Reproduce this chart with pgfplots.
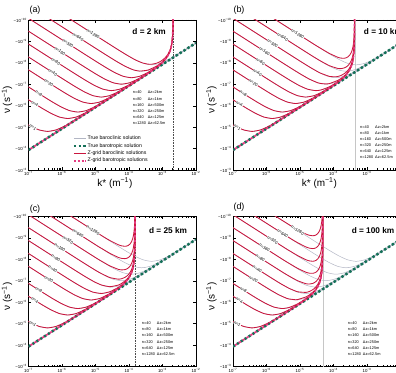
\documentclass[border=0pt]{standalone}
\usepackage{fontspec}
\setmainfont{Liberation Sans}
\usepackage{pgfplots}
\pgfplotsset{compat=1.18}

\definecolor{zred}{RGB}{202,22,62}
\definecolor{zpink}{RGB}{230,60,130}
\definecolor{tgreen}{RGB}{20,112,88}
\definecolor{tgrey}{RGB}{178,182,196}
\newcommand{\sprm}[1]{\textsuperscript{#1}}

% all data are log10 values: x = log10 k*, y = log10 |nu|
\pgfplotsset{
  panel/.style={
    scale only axis, width=167.5bp, height=150bp,
    xmin=-7, xmax=-2, ymin=-10, ymax=-3, y dir=reverse,
    xtick={-7,-6,-5,-4,-3,-2},
    xticklabels={10\sprm{−7},10\sprm{−6},10\sprm{−5},10\sprm{−4},10\sprm{−3},10\sprm{−2}},
    ytick={-10,-9,-8,-7,-6,-5,-4,-3},
    yticklabels={−10\sprm{−10},−10\sprm{−9},−10\sprm{−8},−10\sprm{−7},−10\sprm{−6},−10\sprm{−5},−10\sprm{−4},−10\sprm{−3}},
    minor xtick={-6.699,-6.523,-6.398,-6.301,-6.222,-6.155,-6.097,-6.046,
                 -5.699,-5.523,-5.398,-5.301,-5.222,-5.155,-5.097,-5.046,
                 -4.699,-4.523,-4.398,-4.301,-4.222,-4.155,-4.097,-4.046,
                 -3.699,-3.523,-3.398,-3.301,-3.222,-3.155,-3.097,-3.046,
                 -2.699,-2.523,-2.398,-2.301,-2.222,-2.155,-2.097,-2.046},
    tick align=inside, major tick length=2.8bp, minor tick length=1.5bp,
    tick style={black, line width=0.4bp},
    axis line style={line width=0.6bp},
    tick label style={font=\fontsize{4.4}{5}\selectfont},
    xticklabel style={inner sep=1.2bp},
    yticklabel style={inner sep=1.5bp},
    label style={font=\fontsize{5.4}{6}\selectfont},
    xlabel={k* (m\sprm{−1})},
    ylabel={ν (s\sprm{−1})},
    every axis y label/.style={at={(axis description cs:-0.128,0.467)}, rotate=90, anchor=center},
    every axis x label/.style={at={(axis description cs:0.516,-0.087)}, anchor=center},
  },
  truebc/.style={tgrey, line width=0.5bp, smooth, tension=0.4, no marks, forget plot},
  zbc/.style={zred, line width=0.85bp, smooth, tension=0.3, no marks, forget plot},
  ztail/.style={zred, line width=1.1bp, no marks, forget plot},
  tbt/.style={tgreen, line width=2.5bp, dash pattern=on 2.5bp off 2.1bp, no marks, forget plot},
  zbt/.style={zpink, line width=1.7bp, dash pattern=on 2.4bp off 2.2bp, dash phase=2.3bp, no marks, forget plot},
}
\tikzset{
  nlab/.style={font=\fontsize{4.2}{5}\selectfont, rotate=-32.6, fill=white, inner sep=0.3bp},
  dlab/.style={font=\bfseries\fontsize{8.3}{9}\selectfont},
  tab/.style={anchor=north west, font=\fontsize{3.9}{6.1}\selectfont, align=left, inner sep=0pt},
}

% exact (continuous) baroclinic modes, identical in every panel
\newcommand{\truecurves}{%
\addplot[truebc] coordinates {(-7.18,-5.2635) (-6.93,-5.0414) (-6.68,-4.8693) (-6.43,-4.801) (-6.18,-4.8693) (-5.93,-5.0414) (-5.68,-5.2635) (-5.43,-5.5043) (-5.18,-5.7514) (-4.93,-6.0004) (-2,-8.93)};
\addplot[truebc] coordinates {(-7.328,-6.6024) (-7.078,-6.3534) (-6.828,-6.1063) (-6.578,-5.8655) (-6.328,-5.6434) (-6.078,-5.4713) (-5.828,-5.403) (-5.578,-5.4713) (-5.328,-5.6434) (-5.078,-5.8655) (-4.828,-6.1063) (-4.578,-6.3534) (-4.328,-6.6024) (-2,-8.93)};
\addplot[truebc] coordinates {(-7.2,-7.076) (-7.027,-6.9034) (-6.777,-6.6544) (-6.527,-6.4073) (-6.277,-6.1665) (-6.027,-5.9444) (-5.777,-5.7723) (-5.527,-5.704) (-5.277,-5.7723) (-5.027,-5.9444) (-4.777,-6.1665) (-4.527,-6.4073) (-4.277,-6.6544) (-4.027,-6.9034) (-2,-8.93)};
\addplot[truebc] coordinates {(-7.1,-7.772) (-6.629,-7.3014) (-6.379,-7.0524) (-6.129,-6.8053) (-5.879,-6.5645) (-5.629,-6.3424) (-5.379,-6.1703) (-5.129,-6.102) (-4.879,-6.1703) (-4.629,-6.3424) (-4.379,-6.5645) (-4.129,-6.8053) (-3.879,-7.0524) (-3.629,-7.3014) (-2,-8.93)};
\addplot[truebc] coordinates {(-7.1,-8.374) (-6.328,-7.6024) (-6.078,-7.3534) (-5.828,-7.1063) (-5.578,-6.8655) (-5.328,-6.6434) (-5.078,-6.4713) (-4.828,-6.403) (-4.578,-6.4713) (-4.328,-6.6434) (-4.078,-6.8655) (-3.828,-7.1063) (-3.578,-7.3534) (-3.328,-7.6024) (-2,-8.93)};
\addplot[truebc] coordinates {(-7.1,-8.976) (-6.027,-7.9034) (-5.777,-7.6544) (-5.527,-7.4073) (-5.277,-7.1665) (-5.027,-6.9444) (-4.777,-6.7723) (-4.527,-6.704) (-4.277,-6.7723) (-4.027,-6.9444) (-3.777,-7.1665) (-3.527,-7.4073) (-3.277,-7.6544) (-3.027,-7.9034) (-2,-8.93)};
\addplot[truebc] coordinates {(-7.1,-9.578) (-5.726,-8.2044) (-5.476,-7.9554) (-5.226,-7.7083) (-4.976,-7.4675) (-4.726,-7.2454) (-4.476,-7.0733) (-4.226,-7.005) (-3.976,-7.0733) (-3.726,-7.2454) (-3.476,-7.4675) (-3.226,-7.7083) (-2.976,-7.9554) (-2.726,-8.2044) (-2,-8.93)};
\addplot[truebc] coordinates {(-7.0,-10.08) (-5.425,-8.5054) (-5.175,-8.2564) (-4.925,-8.0093) (-4.675,-7.7685) (-4.425,-7.5464) (-4.175,-7.3743) (-3.925,-7.306) (-3.675,-7.3743) (-3.425,-7.5464) (-3.175,-7.7685) (-2.925,-8.0093) (-2.675,-8.2564) (-2.425,-8.5054) (-2,-8.93)};
\addplot[truebc] coordinates {(-6.4,-10.082) (-5.124,-8.8064) (-4.874,-8.5574) (-4.624,-8.3103) (-4.374,-8.0695) (-4.124,-7.8474) (-3.874,-7.6753) (-3.624,-7.607) (-3.374,-7.6753) (-3.124,-7.8474) (-2.874,-8.0695) (-2.624,-8.3103) (-2.374,-8.5574) (-2.124,-8.8064) (-2,-8.93)};
\addplot[truebc] coordinates {(-5.8,-10.084) (-4.823,-9.1074) (-4.573,-8.8584) (-4.323,-8.6113) (-4.073,-8.3705) (-3.823,-8.1484) (-3.573,-7.9763) (-3.323,-7.908) (-3.073,-7.9763) (-2.823,-8.1484) (-2.573,-8.3705) (-2.323,-8.6113) (-2.073,-8.8584) (-1.823,-9.1074)};
\addplot[tbt] coordinates {(-7,-3.93) (-2,-8.93)};
}

\newcommand{\nlabels}{%
\node[nlab] at (axis cs:-6.87,-4.994) {n=1};
\node[nlab] at (axis cs:-6.81,-6.0885) {n=4};
\node[nlab] at (axis cs:-6.69,-6.568) {n=8};
\node[nlab] at (axis cs:-6.39,-7.0635) {n=20};
\node[nlab] at (axis cs:-6.27,-7.5445) {n=40};
\node[nlab] at (axis cs:-6.18,-8.056) {n=80};
\node[nlab] at (axis cs:-6.06,-8.538) {n=160};
\node[nlab] at (axis cs:-5.82,-8.90) {n=320};
\node[nlab] at (axis cs:-5.52,-9.202) {n=640};
\node[nlab] at (axis cs:-5.07,-9.354) {n=1280};
}

\newcommand{\gridtable}{%
\makebox[15bp][l]{n=40}Δz=2km\\
\makebox[15bp][l]{n=80}Δz=1km\\
\makebox[15bp][l]{n=160}Δz=500m\\
\makebox[15bp][l]{n=320}Δz=250m\\
\makebox[15bp][l]{n=640}Δz=125m\\
\makebox[15bp][l]{n=1280}Δz=62.5m}

\begin{document}
\begin{tikzpicture}

% ---------------- (a) d = 2 km ----------------
\begin{axis}[panel, at={(28.5bp,203bp)}, anchor=south west,
  legend style={draw=none, fill=none, at={(0.245,0.245)}, anchor=north west,
    font=\fontsize{5.2}{6}\selectfont, row sep=0.9bp, nodes={inner sep=0.6bp}},
  legend cell align=left,
  legend image code/.code={\draw[#1] (0bp,0bp) -- (12bp,0bp);}]
\addlegendimage{tgrey, line width=0.5bp}\addlegendentry{True baroclinic solution}
\addlegendimage{tgreen, line width=2.4bp, dash pattern=on 2.4bp off 2.2bp}\addlegendentry{True barotropic solution}
\addlegendimage{zred, line width=0.85bp}\addlegendentry{Z-grid baroclinic solutions}
\addlegendimage{zpink, line width=1.7bp, dash pattern=on 2.4bp off 1.4bp}\addlegendentry{Z-grid barotropic solutions}
\addplot[gray!60!black, line width=0.5bp, dash pattern=on 0.8bp off 0.8bp, forget plot] coordinates {(-2.68,-10) (-2.68,-3)};
\truecurves
\addplot[zbc] coordinates {(-7.18,-5.2635) (-6.93,-5.0414) (-6.68,-4.8693) (-6.43,-4.801) (-6.18,-4.8693) (-5.93,-5.0414) (-5.68,-5.2635) (-5.43,-5.5043) (-5.18,-5.7514) (-4.93,-6.0004) (-3.68,-7.2536)};
\addplot[zbc] coordinates {(-7.328,-6.6024) (-7.078,-6.3534) (-6.828,-6.1063) (-6.578,-5.8655) (-6.328,-5.6434) (-6.078,-5.4713) (-5.828,-5.403) (-5.578,-5.4713) (-5.328,-5.6434) (-5.078,-5.8655) (-4.828,-6.1063) (-4.578,-6.3534) (-4.328,-6.6024) (-3.68,-7.2536)};
\addplot[zbc] coordinates {(-7.2,-7.076) (-7.027,-6.9034) (-6.777,-6.6544) (-6.527,-6.4073) (-6.277,-6.1665) (-6.027,-5.9444) (-5.777,-5.7723) (-5.527,-5.704) (-5.277,-5.7723) (-5.027,-5.9444) (-4.777,-6.1665) (-4.527,-6.4073) (-4.277,-6.6544) (-4.027,-6.9034) (-3.68,-7.2536)};
\addplot[zbc] coordinates {(-7.1,-7.772) (-6.629,-7.3014) (-6.379,-7.0524) (-6.129,-6.8053) (-5.879,-6.5645) (-5.629,-6.3424) (-5.379,-6.1703) (-5.129,-6.102) (-4.879,-6.1703) (-4.629,-6.3424) (-4.379,-6.5645) (-4.129,-6.8053) (-3.879,-7.0524) (-3.68,-7.2536)};
\addplot[zbc] coordinates {(-7.1,-8.374) (-6.328,-7.6024) (-6.078,-7.3534) (-5.828,-7.1063) (-5.578,-6.8655) (-5.328,-6.6434) (-5.078,-6.4713) (-4.828,-6.403) (-4.578,-6.4713) (-4.328,-6.6434) (-4.078,-6.8655) (-3.828,-7.1063) (-3.68,-7.2556) (-3.43,-7.5115)};
\addplot[zbc] coordinates {(-7.1,-8.976) (-6.027,-7.9034) (-5.777,-7.6544) (-5.527,-7.4073) (-5.277,-7.1665) (-5.027,-6.9444) (-4.777,-6.7723) (-4.527,-6.704) (-4.277,-6.7723) (-4.027,-6.9444) (-3.777,-7.1665) (-3.68,-7.2622) (-3.43,-7.5141) (-3.18,-7.788)};
\addplot[zbc] coordinates {(-7.1,-9.578) (-5.726,-8.2044) (-5.476,-7.9554) (-5.226,-7.7083) (-4.976,-7.4675) (-4.726,-7.2454) (-4.476,-7.0733) (-4.226,-7.005) (-3.976,-7.0733) (-3.726,-7.2454) (-3.68,-7.2875) (-3.43,-7.5225) (-3.18,-7.7917) (-3.08,-7.9146) (-2.98,-8.0571)};
\addplot[zbc] coordinates {(-7.0,-10.08) (-5.425,-8.5054) (-5.175,-8.2564) (-4.925,-8.0093) (-4.675,-7.7685) (-4.425,-7.5464) (-4.175,-7.3743) (-3.925,-7.306) (-3.68,-7.3762) (-3.43,-7.5547) (-3.18,-7.8029) (-3.08,-7.9221) (-2.98,-8.0623) (-2.93,-8.1453) (-2.88,-8.2424) (-2.83,-8.3658) (-2.78,-8.5329) (-2.75,-8.6811) (-2.73,-8.8206) (-2.71,-9.0357) (-2.70,-9.2068) (-2.69,-9.503) (-2.685,-9.8045) (-2.68,-10.3)};
\addplot[zbc] coordinates {(-6.4,-10.082) (-5.124,-8.8064) (-4.874,-8.5574) (-4.624,-8.3103) (-4.374,-8.0695) (-4.124,-7.8474) (-3.874,-7.6753) (-3.68,-7.6163) (-3.43,-7.6637) (-3.18,-7.845) (-3.08,-7.9508) (-2.98,-8.0822) (-2.93,-8.1621) (-2.88,-8.2569) (-2.83,-8.3784) (-2.78,-8.5442) (-2.75,-8.6919) (-2.73,-8.8312) (-2.71,-9.0461) (-2.70,-9.2172) (-2.69,-9.5134) (-2.685,-9.815) (-2.68,-10.3)};
\addplot[zbc] coordinates {(-5.8,-10.084) (-4.823,-9.1074) (-4.573,-8.8584) (-4.323,-8.6113) (-4.073,-8.3705) (-3.823,-8.1484) (-3.68,-8.0475) (-3.573,-7.9863) (-3.43,-7.9397) (-3.32,-7.9369) (-3.18,-7.9817) (-3.08,-8.0499) (-2.98,-8.154) (-2.93,-8.2237) (-2.88,-8.3107) (-2.83,-8.4252) (-2.78,-8.5866) (-2.75,-8.7324) (-2.73,-8.8707) (-2.71,-9.0849) (-2.70,-9.2558) (-2.69,-9.5518) (-2.685,-9.853) (-2.68,-10.3)};
\addplot[ztail] coordinates {(-3.68,-7.2536) (-3.43,-7.5115) (-3.18,-7.788) (-3.08,-7.9124) (-2.98,-8.0556) (-2.93,-8.1395) (-2.88,-8.2379) (-2.83,-8.3612) (-2.78,-8.5289) (-2.75,-8.6774) (-2.73,-8.8171) (-2.71,-9.0322) (-2.70,-9.2034) (-2.69,-9.4996) (-2.685,-9.801) (-2.68,-10.3)};
\addplot[zbt] coordinates {(-7,-3.93) (-3.68,-7.2536) (-3.43,-7.5115) (-3.18,-7.788) (-3.08,-7.9124) (-2.98,-8.0556) (-2.93,-8.1395) (-2.88,-8.2379) (-2.83,-8.3612) (-2.78,-8.5289) (-2.75,-8.6774) (-2.73,-8.8171) (-2.71,-9.0322) (-2.70,-9.2034) (-2.69,-9.4996) (-2.685,-9.801) (-2.68,-10.3)};
\nlabels
\node[dlab] at (axis description cs:0.72,0.92) {d = 2 km};
\node[tab] at (axis description cs:0.622,0.527) {\gridtable};
\end{axis}

% ---------------- (b) d = 10 km ----------------
\begin{axis}[panel, at={(233bp,203bp)}, anchor=south west]
\addplot[gray!45, line width=0.5bp, forget plot] coordinates {(-3.36,-10) (-3.36,-3)};
\truecurves
\addplot[zbc] coordinates {(-7.18,-5.2635) (-6.93,-5.0414) (-6.68,-4.8693) (-6.43,-4.801) (-6.18,-4.8693) (-5.93,-5.0414) (-5.68,-5.2635) (-5.43,-5.5043) (-5.18,-5.7514) (-4.93,-6.0004) (-4.37,-6.5636)};
\addplot[zbc] coordinates {(-7.328,-6.6024) (-7.078,-6.3534) (-6.828,-6.1063) (-6.578,-5.8655) (-6.328,-5.6434) (-6.078,-5.4713) (-5.828,-5.403) (-5.578,-5.4713) (-5.328,-5.6434) (-5.078,-5.8655) (-4.828,-6.1063) (-4.578,-6.3534) (-4.37,-6.5636)};
\addplot[zbc] coordinates {(-7.2,-7.076) (-7.027,-6.9034) (-6.777,-6.6544) (-6.527,-6.4073) (-6.277,-6.1665) (-6.027,-5.9444) (-5.777,-5.7723) (-5.527,-5.704) (-5.277,-5.7723) (-5.027,-5.9444) (-4.777,-6.1665) (-4.527,-6.4073) (-4.37,-6.5655)};
\addplot[zbc] coordinates {(-7.1,-7.772) (-6.629,-7.3014) (-6.379,-7.0524) (-6.129,-6.8053) (-5.879,-6.5645) (-5.629,-6.3424) (-5.379,-6.1703) (-5.129,-6.102) (-4.879,-6.1703) (-4.629,-6.3424) (-4.37,-6.5765) (-4.12,-6.8255) (-3.87,-7.0995)};
\addplot[zbc] coordinates {(-7.1,-8.374) (-6.328,-7.6024) (-6.078,-7.3534) (-5.828,-7.1063) (-5.578,-6.8655) (-5.328,-6.6434) (-5.078,-6.4713) (-4.828,-6.403) (-4.578,-6.4713) (-4.37,-6.6136) (-4.12,-6.838) (-3.87,-7.1036) (-3.77,-7.2259) (-3.67,-7.368) (-3.62,-7.4517) (-3.57,-7.5493)};
\addplot[zbc] coordinates {(-7.1,-8.976) (-6.027,-7.9034) (-5.777,-7.6544) (-5.527,-7.4073) (-5.277,-7.1665) (-5.027,-6.9444) (-4.777,-6.7723) (-4.527,-6.704) (-4.37,-6.7365) (-4.12,-6.8849) (-3.87,-7.1202) (-3.77,-7.237) (-3.67,-7.3757) (-3.62,-7.4581) (-3.57,-7.5549) (-3.52,-7.6779) (-3.47,-7.8449) (-3.44,-7.993) (-3.42,-8.1325)};
\addplot[zbc] coordinates {(-7.1,-9.578) (-5.726,-8.2044) (-5.476,-7.9554) (-5.226,-7.7083) (-4.976,-7.4675) (-4.726,-7.2454) (-4.476,-7.0733) (-4.37,-7.0345) (-4.226,-7.0155) (-4.12,-7.0337) (-3.87,-7.181) (-3.77,-7.279) (-3.67,-7.405) (-3.62,-7.483) (-3.57,-7.5766) (-3.52,-7.6963) (-3.47,-7.8614) (-3.44,-8.0092) (-3.42,-8.1485) (-3.40,-8.3633) (-3.39,-8.5344) (-3.38,-8.8305) (-3.375,-9.132) (-3.372,-9.527) (-3.37,-10.3)};
\addplot[zbc] coordinates {(-7.0,-10.08) (-5.425,-8.5054) (-5.175,-8.2564) (-4.925,-8.0093) (-4.675,-7.7685) (-4.425,-7.5464) (-4.37,-7.5096) (-4.12,-7.368) (-3.925,-7.3492) (-3.87,-7.3635) (-3.77,-7.4152) (-3.67,-7.506) (-3.62,-7.5703) (-3.57,-7.653) (-3.52,-7.7639) (-3.47,-7.9228) (-3.44,-8.0674) (-3.42,-8.2052) (-3.40,-8.419) (-3.39,-8.5897) (-3.38,-8.8857) (-3.375,-9.187) (-3.372,-9.582) (-3.37,-10.3)};
\addplot[zbc] coordinates {(-6.4,-10.082) (-5.124,-8.8064) (-4.874,-8.5574) (-4.624,-8.3103) (-4.37,-8.073) (-4.12,-7.866) (-3.87,-7.7386) (-3.77,-7.7324) (-3.67,-7.7681) (-3.62,-7.8079) (-3.57,-7.869) (-3.52,-7.9617) (-3.47,-8.1065) (-3.44,-8.2449) (-3.42,-8.3798) (-3.40,-8.5914) (-3.39,-8.7614) (-3.38,-9.057) (-3.375,-9.358) (-3.372,-9.753) (-3.37,-10.3)};
\addplot[zbc] coordinates {(-5.8,-10.084) (-4.823,-9.1074) (-4.573,-8.8584) (-4.37,-8.6649) (-4.12,-8.4375) (-3.87,-8.2589) (-3.77,-8.2198) (-3.67,-8.2171) (-3.62,-8.2369) (-3.57,-8.2784) (-3.52,-8.3531) (-3.47,-8.4831) (-3.44,-8.6145) (-3.42,-8.7456) (-3.40,-8.9547) (-3.39,-9.1238) (-3.38,-9.4188) (-3.375,-9.7196) (-3.37,-10.3)};
\addplot[ztail] coordinates {(-4.37,-6.5636) (-4.12,-6.8215) (-3.87,-7.098) (-3.77,-7.2224) (-3.67,-7.3656) (-3.62,-7.4495) (-3.57,-7.5479) (-3.52,-7.6712) (-3.47,-7.8389) (-3.44,-7.9874) (-3.42,-8.1271) (-3.40,-8.3422) (-3.39,-8.5134) (-3.38,-8.8096) (-3.375,-9.111) (-3.372,-9.506) (-3.37,-10.3)};
\addplot[zbt] coordinates {(-7,-3.93) (-4.37,-6.5636) (-4.12,-6.8215) (-3.87,-7.098) (-3.77,-7.2224) (-3.67,-7.3656) (-3.62,-7.4495) (-3.57,-7.5479) (-3.52,-7.6712) (-3.47,-7.8389) (-3.44,-7.9874) (-3.42,-8.1271) (-3.40,-8.3422) (-3.39,-8.5134) (-3.38,-8.8096) (-3.375,-9.111) (-3.372,-9.506) (-3.37,-10.3)};
\nlabels
\node[dlab] at (axis description cs:0.895,0.922) {d = 10 km};
\node[tab] at (axis description cs:0.758,0.30) {\gridtable};
\end{axis}

% ---------------- (c) d = 25 km ----------------
\begin{axis}[panel, at={(28.5bp,6.5bp)}, anchor=south west]
\addplot[gray!60!black, line width=0.5bp, dash pattern=on 0.8bp off 0.8bp, forget plot] coordinates {(-3.82,-10) (-3.82,-3)};
\truecurves
\addplot[zbc] coordinates {(-7.18,-5.2635) (-6.93,-5.0414) (-6.68,-4.8693) (-6.43,-4.801) (-6.18,-4.8693) (-5.93,-5.0414) (-5.68,-5.2635) (-5.43,-5.5043) (-5.18,-5.7514) (-4.93,-6.0004) (-4.82,-6.1136)};
\addplot[zbc] coordinates {(-7.328,-6.6024) (-7.078,-6.3534) (-6.828,-6.1063) (-6.578,-5.8655) (-6.328,-5.6434) (-6.078,-5.4713) (-5.828,-5.403) (-5.578,-5.4713) (-5.328,-5.6434) (-5.078,-5.8655) (-4.82,-6.1177) (-4.57,-6.3715)};
\addplot[zbc] coordinates {(-7.2,-7.076) (-7.027,-6.9034) (-6.777,-6.6544) (-6.527,-6.4073) (-6.277,-6.1665) (-6.027,-5.9444) (-5.777,-5.7723) (-5.527,-5.704) (-5.277,-5.7723) (-5.027,-5.9444) (-4.82,-6.13) (-4.57,-6.3766) (-4.32,-6.6497)};
\addplot[zbc] coordinates {(-7.1,-7.772) (-6.629,-7.3014) (-6.379,-7.0524) (-6.129,-6.8053) (-5.879,-6.5645) (-5.629,-6.3424) (-5.379,-6.1703) (-5.129,-6.102) (-4.879,-6.1703) (-4.82,-6.2079) (-4.57,-6.4039) (-4.32,-6.6591) (-4.22,-6.7796) (-4.12,-6.9205) (-4.07,-7.0038) (-4.02,-7.1012) (-3.97,-7.2247) (-3.92,-7.392)};
\addplot[zbc] coordinates {(-7.1,-8.374) (-6.328,-7.6024) (-6.078,-7.3534) (-5.828,-7.1063) (-5.578,-6.8655) (-5.328,-6.6434) (-5.078,-6.4713) (-4.82,-6.4084) (-4.57,-6.4897) (-4.32,-6.6913) (-4.22,-6.8015) (-4.12,-6.9357) (-4.07,-7.0165) (-4.02,-7.1124) (-3.97,-7.2339) (-3.92,-7.4002) (-3.89,-7.5482) (-3.87,-7.6877) (-3.85,-7.9026) (-3.84,-8.0738) (-3.83,-8.370) (-3.825,-8.6714) (-3.822,-9.0666) (-3.8205,-9.667) (-3.82,-10.3)};
\addplot[zbc] coordinates {(-7.1,-8.976) (-6.027,-7.9034) (-5.777,-7.6544) (-5.527,-7.4073) (-5.277,-7.1665) (-5.027,-6.9444) (-4.82,-6.8027) (-4.57,-6.7239) (-4.32,-6.7998) (-4.22,-6.8788) (-4.12,-6.991) (-4.07,-7.0637) (-4.02,-7.1533) (-3.97,-7.2697) (-3.92,-7.4326) (-3.89,-7.579) (-3.87,-7.7177) (-3.85,-7.932) (-3.84,-8.103) (-3.83,-8.3991) (-3.825,-8.7005) (-3.822,-9.0957) (-3.8205,-9.6957) (-3.82,-10.3)};
\addplot[zbc] coordinates {(-7.1,-9.578) (-5.726,-8.2044) (-5.476,-7.9554) (-5.226,-7.7083) (-4.976,-7.4675) (-4.82,-7.3325) (-4.57,-7.15) (-4.32,-7.0752) (-4.22,-7.0967) (-4.12,-7.1606) (-4.07,-7.2135) (-4.02,-7.2864) (-3.97,-7.3893) (-3.92,-7.5421) (-3.89,-7.6841) (-3.87,-7.8207) (-3.85,-8.0336) (-3.84,-8.204) (-3.83,-8.4998) (-3.825,-8.801) (-3.822,-9.196) (-3.8205,-9.796) (-3.82,-10.3)};
\addplot[zbc] coordinates {(-7.0,-10.08) (-5.425,-8.5054) (-5.175,-8.2564) (-4.925,-8.0093) (-4.82,-7.9143) (-4.57,-7.6941) (-4.32,-7.5342) (-4.22,-7.508) (-4.12,-7.5211) (-4.07,-7.5493) (-4.02,-7.5995) (-3.97,-7.6822) (-3.92,-7.819) (-3.89,-7.9536) (-3.87,-8.0864) (-3.85,-8.2968) (-3.84,-8.4663) (-3.83,-8.7615) (-3.825,-9.0624) (-3.822,-9.4574) (-3.82,-10.3)};
\addplot[zbc] coordinates {(-6.4,-10.082) (-5.124,-8.8064) (-4.874,-8.5574) (-4.82,-8.5111) (-4.57,-8.2803) (-4.32,-8.0917) (-4.22,-8.0456) (-4.12,-8.0336) (-4.07,-8.0482) (-4.02,-8.0844) (-3.97,-8.1537) (-3.92,-8.2791) (-3.89,-8.4083) (-3.87,-8.5383) (-3.85,-8.7466) (-3.84,-8.9153) (-3.83,-9.21) (-3.825,-9.5107) (-3.822,-9.9057) (-3.82,-10.3)};
\addplot[zbc] coordinates {(-5.8,-10.084) (-4.82,-9.1116) (-4.57,-8.8783) (-4.32,-8.682) (-4.22,-8.6299) (-4.12,-8.6101) (-4.07,-8.62) (-4.02,-8.6514) (-3.97,-8.7159) (-3.92,-8.837) (-3.89,-8.9641) (-3.87,-9.093) (-3.85,-9.3006) (-3.84,-9.4692) (-3.83,-9.7639) (-3.825,-10.0646) (-3.82,-10.3)};
\addplot[ztail] coordinates {(-4.82,-6.1136) (-4.57,-6.3715) (-4.32,-6.648) (-4.22,-6.7724) (-4.12,-6.9156) (-4.07,-6.9995) (-4.02,-7.0979) (-3.97,-7.2212) (-3.92,-7.3889) (-3.89,-7.5374) (-3.87,-7.6771) (-3.85,-7.8922) (-3.84,-8.0634) (-3.83,-8.3596) (-3.825,-8.661) (-3.822,-9.056) (-3.8205,-9.656) (-3.82,-10.3)};
\addplot[zbt] coordinates {(-7,-3.93) (-4.82,-6.1136) (-4.57,-6.3715) (-4.32,-6.648) (-4.22,-6.7724) (-4.12,-6.9156) (-4.07,-6.9995) (-4.02,-7.0979) (-3.97,-7.2212) (-3.92,-7.3889) (-3.89,-7.5374) (-3.87,-7.6771) (-3.85,-7.8922) (-3.84,-8.0634) (-3.83,-8.3596) (-3.825,-8.661) (-3.822,-9.056) (-3.8205,-9.656) (-3.82,-10.3)};
\nlabels
\node[dlab] at (axis description cs:0.833,0.909) {d = 25 km};
\node[tab] at (axis description cs:0.676,0.298) {\gridtable};
\end{axis}

% ---------------- (d) d = 100 km ----------------
\begin{axis}[panel, at={(233bp,6.5bp)}, anchor=south west]
\addplot[gray!45, line width=0.5bp, forget plot] coordinates {(-4.32,-10) (-4.32,-3)};
\truecurves
\addplot[zbc] coordinates {(-7.18,-5.2635) (-6.93,-5.0414) (-6.68,-4.8693) (-6.43,-4.801) (-6.18,-4.8693) (-5.93,-5.0414) (-5.68,-5.2635) (-5.43,-5.5043) (-5.32,-5.616)};
\addplot[zbc] coordinates {(-7.328,-6.6024) (-7.078,-6.3534) (-6.828,-6.1063) (-6.578,-5.8655) (-6.328,-5.6434) (-6.078,-5.4713) (-5.828,-5.403) (-5.578,-5.4713) (-5.32,-5.6537) (-5.07,-5.8846) (-4.82,-6.1524) (-4.72,-6.2751) (-4.62,-6.4174)};
\addplot[zbc] coordinates {(-7.2,-7.076) (-7.027,-6.9034) (-6.777,-6.6544) (-6.527,-6.4073) (-6.277,-6.1665) (-6.027,-5.9444) (-5.777,-5.7723) (-5.527,-5.704) (-5.32,-5.7561) (-5.07,-5.9225) (-4.82,-6.1657) (-4.72,-6.284) (-4.62,-6.4236) (-4.57,-6.5064) (-4.52,-6.6034) (-4.47,-6.7266) (-4.42,-6.8936)};
\addplot[zbc] coordinates {(-7.1,-7.772) (-6.629,-7.3014) (-6.379,-7.0524) (-6.129,-6.8053) (-5.879,-6.5645) (-5.629,-6.3424) (-5.379,-6.1703) (-5.32,-6.149) (-5.129,-6.115) (-5.07,-6.1225) (-4.82,-6.249) (-4.72,-6.3419) (-4.62,-6.4643) (-4.57,-6.5407) (-4.52,-6.6333) (-4.47,-6.7521) (-4.42,-6.9167) (-4.39,-7.0639) (-4.37,-7.203) (-4.35,-7.4177) (-4.34,-7.5887) (-4.33,-7.8848) (-4.325,-8.1862) (-4.32,-10.3)};
\addplot[zbc] coordinates {(-7.1,-8.374) (-6.328,-7.6024) (-6.078,-7.3534) (-5.828,-7.1063) (-5.578,-6.8655) (-5.32,-6.6439) (-5.07,-6.4873) (-4.82,-6.459) (-4.72,-6.5013) (-4.62,-6.584) (-4.57,-6.645) (-4.52,-6.7249) (-4.47,-6.8336) (-4.42,-6.9908) (-4.39,-7.1348) (-4.37,-7.2723) (-4.35,-7.4859) (-4.34,-7.6565) (-4.33,-7.9524) (-4.325,-8.2536) (-4.32,-10.3)};
\addplot[zbc] coordinates {(-7.1,-8.976) (-6.027,-7.9034) (-5.777,-7.6544) (-5.527,-7.4073) (-5.32,-7.2144) (-5.07,-7.0023) (-4.82,-6.8628) (-4.72,-6.8494) (-4.62,-6.8773) (-4.57,-6.9132) (-4.52,-6.9706) (-4.47,-7.06) (-4.42,-7.2023) (-4.39,-7.3395) (-4.37,-7.4736) (-4.35,-7.6848) (-4.34,-7.8546) (-4.33,-8.15) (-4.325,-8.451) (-4.32,-10.3)};
\addplot[zbc] coordinates {(-7.1,-9.578) (-5.726,-8.2044) (-5.476,-7.9554) (-5.32,-7.8082) (-5.07,-7.5795) (-4.82,-7.397) (-4.72,-7.3553) (-4.62,-7.349) (-4.57,-7.3668) (-4.52,-7.4065) (-4.47,-7.4792) (-4.42,-7.6074) (-4.39,-7.7381) (-4.37,-7.8688) (-4.35,-8.0777) (-4.34,-8.2467) (-4.33,-8.5416) (-4.325,-8.8424) (-4.32,-10.3)};
\addplot[zbc] coordinates {(-7.0,-10.08) (-5.425,-8.5054) (-5.32,-8.4079) (-5.07,-8.1751) (-4.82,-7.9802) (-4.72,-7.9295) (-4.62,-7.9113) (-4.57,-7.9222) (-4.52,-7.9546) (-4.47,-8.0202) (-4.42,-8.1422) (-4.39,-8.2698) (-4.37,-8.3989) (-4.35,-8.6066) (-4.34,-8.7751) (-4.33,-9.0698) (-4.325,-9.3705) (-4.32,-10.3)};
\addplot[zbc] coordinates {(-6.4,-10.082) (-5.32,-9.0094) (-5.07,-8.7754) (-4.82,-8.5774) (-4.72,-8.5242) (-4.62,-8.5028) (-4.57,-8.5118) (-4.52,-8.5421) (-4.47,-8.6055) (-4.42,-8.7257) (-4.39,-8.8524) (-4.37,-8.9811) (-4.35,-9.1885) (-4.34,-9.357) (-4.33,-9.6516) (-4.325,-9.9525) (-4.32,-10.3)};
\addplot[zbc] coordinates {(-5.8,-10.084) (-5.32,-9.6112) (-5.07,-9.377) (-4.82,-9.1782) (-4.72,-9.1244) (-4.62,-9.1021) (-4.57,-9.1106) (-4.52,-9.1404) (-4.47,-9.2032) (-4.42,-9.3229) (-4.39,-9.4493) (-4.37,-9.5778) (-4.35,-9.7852) (-4.34,-9.9536) (-4.33,-10.2482)};
\addplot[ztail] coordinates {(-5.32,-5.6136) (-5.07,-5.8715) (-4.82,-6.148) (-4.72,-6.2724) (-4.62,-6.4156) (-4.57,-6.4995) (-4.52,-6.5979) (-4.47,-6.7212) (-4.42,-6.8889) (-4.39,-7.0374) (-4.37,-7.1771) (-4.35,-7.3922) (-4.34,-7.5634) (-4.33,-7.8596) (-4.325,-8.161) (-4.322,-8.556) (-4.3205,-9.156) (-4.32,-10.3)};
\addplot[zbt] coordinates {(-7,-3.93) (-5.32,-5.6136) (-5.07,-5.8715) (-4.82,-6.148) (-4.72,-6.2724) (-4.62,-6.4156) (-4.57,-6.4995) (-4.52,-6.5979) (-4.47,-6.7212) (-4.42,-6.8889) (-4.39,-7.0374) (-4.37,-7.1771) (-4.35,-7.3922) (-4.34,-7.5634) (-4.33,-7.8596) (-4.325,-8.161) (-4.322,-8.556) (-4.3205,-9.156) (-4.32,-10.3)};
\nlabels
\node[dlab] at (axis description cs:0.836,0.909) {d = 100 km};
\node[tab] at (axis description cs:0.685,0.298) {\gridtable};
\end{axis}

\node[font=\fontsize{9}{10}\selectfont] at (35bp,363bp) {(a)};
\node[font=\fontsize{9}{10}\selectfont] at (239bp,363bp) {(b)};
\node[font=\fontsize{9}{10}\selectfont] at (35bp,164bp) {(c)};
\node[font=\fontsize{9}{10}\selectfont] at (239bp,166bp) {(d)};

\pgfresetboundingbox
\path[use as bounding box] (0bp,0bp) rectangle (396bp,373bp);
\end{tikzpicture}
\end{document}
